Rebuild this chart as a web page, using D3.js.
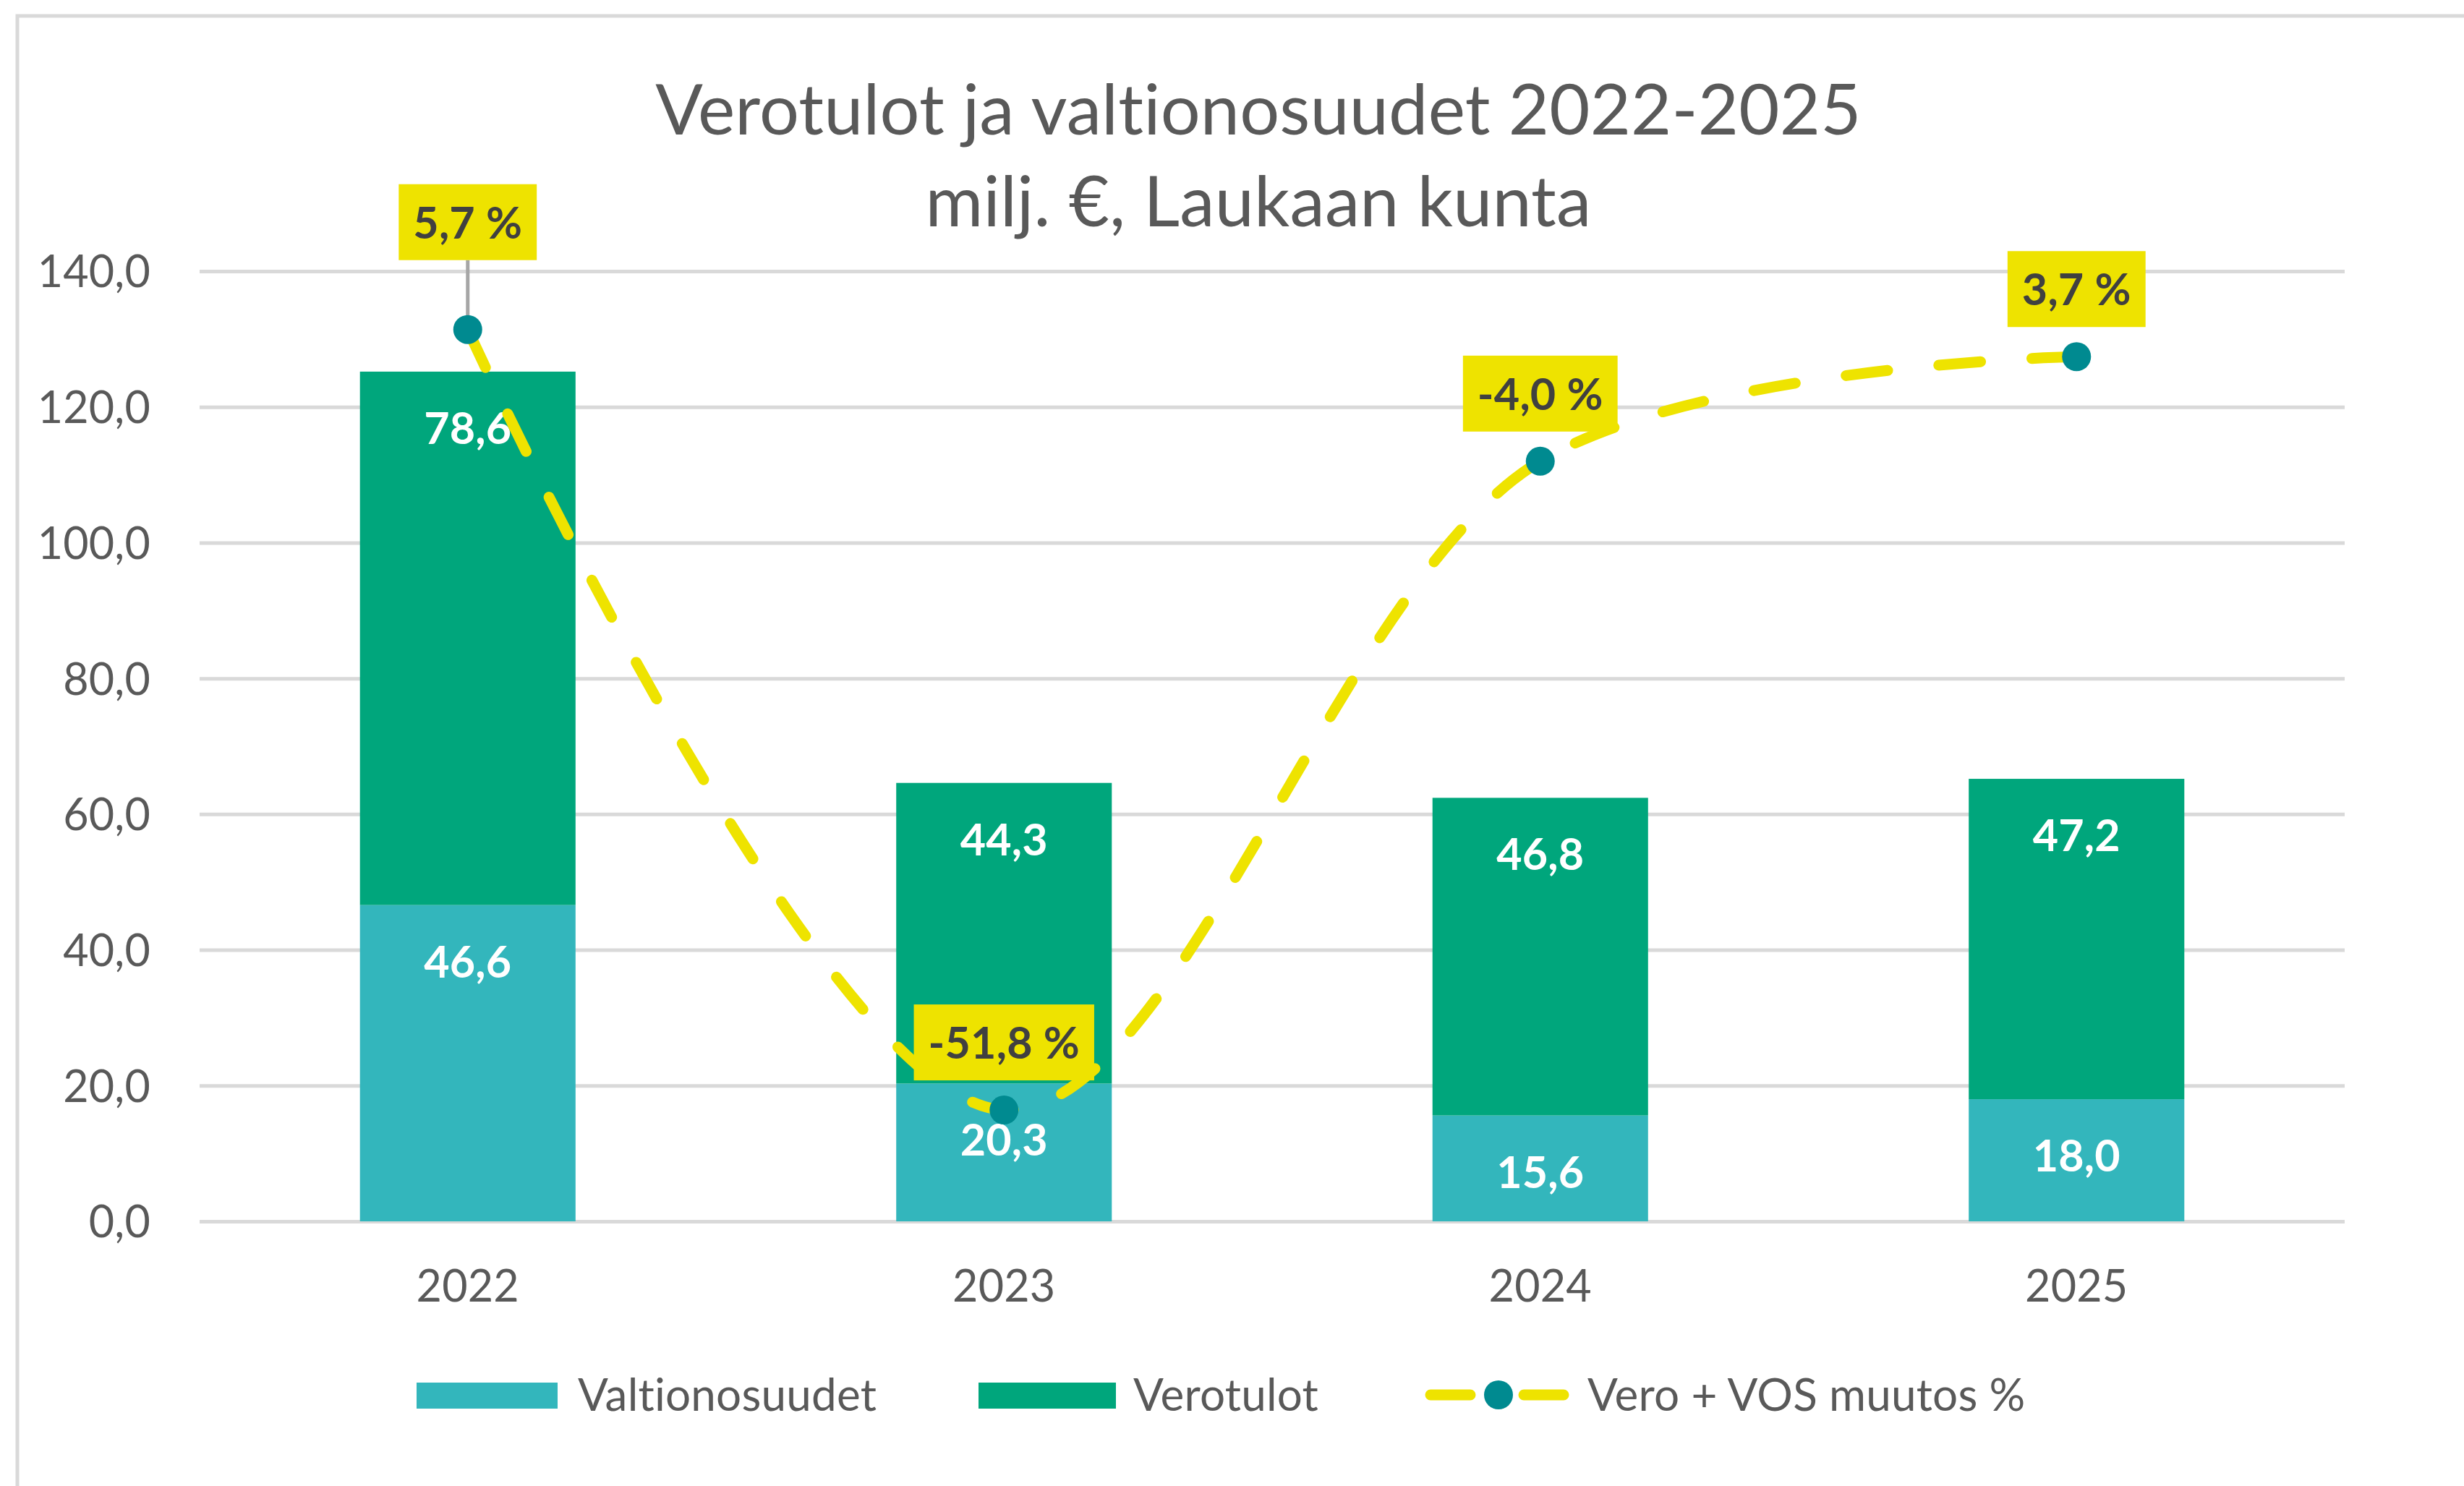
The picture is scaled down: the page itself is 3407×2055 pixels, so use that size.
<!DOCTYPE html>
<html><head><meta charset="utf-8">
<script src="https://cdn.jsdelivr.net/npm/d3@7"></script>
<style>
html,body{margin:0;padding:0;background:#fff;}
svg{display:block;font-family:Lato,"Open Sans",sans-serif;}
text{font-variant-ligatures:none;font-feature-settings:"liga" 0,"clig" 0,"dlig" 0;letter-spacing:0.2px;}
</style></head>
<body>
<svg id="chart" width="3407" height="2055"></svg>
<script>
const categories = ["2022", "2023", "2024", "2025"];
const valtionosuudet = [46.6, 20.3, 15.6, 18.0];
const verotulot = [78.6, 44.3, 46.8, 47.2];
const muutos = [5.7, -51.8, -4.0, 3.7];
const yTicks = [0, 20, 40, 60, 80, 100, 120, 140];
const titleLines = ["Verotulot ja valtionosuudet 2022-2025", "milj. €, Laukaan kunta"];
const seriesNames = ["Valtionosuudet", "Verotulot", "Vero + VOS muutos %"];

const C_TEAL = "#33B6BC", C_GREEN = "#00A67C", C_YELLOW = "#EEE300", C_MARK = "#008A90";
const C_GRID = "#D9D9D9", C_TEXT = "#595959", C_DARK = "#404040";

const fi = d3.formatLocale({decimal: ",", thousands: " ", grouping: [3], currency: ["", " €"], minus: "-"});
const f1 = fi.format(".1f");

const svg = d3.select("#chart");
svg.append("rect").attr("width", 3407).attr("height", 2055).attr("fill", "#fff");
// chart border (clipped on right/bottom)
svg.append("rect").attr("x", 24).attr("y", 22).attr("width", 3500).attr("height", 2200)
  .attr("fill", "none").attr("stroke", C_GRID).attr("stroke-width", 5);

const x = d3.scaleBand().domain(categories).range([276, 3242]).padding(0);
const y = d3.scaleLinear().domain([0, 140]).range([1689, 375]);
const y2 = d3.scaleLinear().domain([-60, 10]).range([1689, 375]);
const bw = x.bandwidth() * 0.402;

// title
const title = svg.append("text").attr("text-anchor", "middle").attr("fill", C_TEXT)
  .attr("font-size", 97);
title.append("tspan").attr("x", 1740).attr("y", 186).text(titleLines[0]);
title.append("tspan").attr("x", 1740).attr("y", 313).text(titleLines[1]);

// y axis with gridlines
const yAxis = svg.append("g").attr("transform", "translate(276,0)")
  .call(d3.axisLeft(y).tickValues(yTicks).tickFormat(f1)
    .tickSizeInner(-(3242 - 276)).tickSizeOuter(0).tickPadding(68));
yAxis.select(".domain").remove();
yAxis.selectAll(".tick line").attr("stroke", C_GRID).attr("stroke-width", 5);
yAxis.selectAll(".tick text").attr("fill", C_TEXT).attr("font-size", 61)
  .attr("font-family", "Lato").attr("dy", "0.36em");

// x axis
const xAxis = svg.append("g").attr("transform", "translate(0,1689)")
  .call(d3.axisBottom(x).tickSize(0).tickPadding(68));
xAxis.select(".domain").remove();
xAxis.selectAll(".tick text").attr("fill", C_TEXT).attr("font-size", 61).attr("font-family", "Lato");

// stacked bars
const stackData = categories.map((c, i) => ({cat: c, valtionosuudet: valtionosuudet[i], verotulot: verotulot[i]}));
const stack = d3.stack().keys(["valtionosuudet", "verotulot"])(stackData);
const colors = [C_TEAL, C_GREEN];
stack.forEach((layer, li) => {
  const g = svg.append("g");
  g.selectAll("rect").data(layer).join("rect")
    .attr("x", d => x(d.data.cat) + x.bandwidth() / 2 - bw / 2)
    .attr("width", bw)
    .attr("y", d => y(d[1]))
    .attr("height", d => y(d[0]) - y(d[1]))
    .attr("fill", colors[li]);
  g.selectAll("text").data(layer).join("text")
    .attr("x", d => x(d.data.cat) + x.bandwidth() / 2)
    .attr("y", d => y(d[1]) + 78)
    .attr("dy", "0.36em")
    .attr("text-anchor", "middle").attr("fill", "#fff").attr("font-weight", 700)
    .attr("font-size", 61)
    .text(d => f1(d[1] - d[0]));
});

// line series
const pts = categories.map((c, i) => [x(c) + x.bandwidth() / 2, y2(muutos[i])]);
svg.append("path").attr("d", d3.line().curve(d3.curveCatmullRom.alpha(0.5))(pts))
  .attr("fill", "none").attr("stroke", C_YELLOW).attr("stroke-width", 15)
  .attr("stroke-linecap", "round").attr("stroke-dasharray", "58 71");

// leader line for first label
const lift = [96, 41, 41, 41];
svg.append("line").attr("x1", pts[0][0]).attr("x2", pts[0][0])
  .attr("y1", pts[0][1] - lift[0]).attr("y2", pts[0][1])
  .attr("stroke", "#A6A6A6").attr("stroke-width", 5);

svg.append("g").selectAll("circle").data(pts).join("circle")
  .attr("cx", d => d[0]).attr("cy", d => d[1]).attr("r", 20).attr("fill", C_MARK);

// percentage labels
const lg = svg.append("g");
pts.forEach((p, i) => {
  const bottom = p[1] - lift[i];
  const cy = bottom - 52;
  const g = lg.append("g");
  const box = g.append("rect").attr("fill", C_YELLOW);
  const t = g.append("text").attr("x", p[0]).attr("y", cy).attr("dy", "0.36em")
    .attr("text-anchor", "middle").attr("fill", C_DARK).attr("font-weight", 700)
    .attr("font-size", 61).text(f1(muutos[i]) + " %");
  const w = t.node().getComputedTextLength() + 40;
  box.attr("x", p[0] - w / 2).attr("width", w).attr("y", bottom - 105).attr("height", 105);
});

// legend
const leg = svg.append("g");
leg.append("rect").attr("x", 576).attr("y", 1912).attr("width", 195).attr("height", 36).attr("fill", C_TEAL);
leg.append("text").attr("x", 799).attr("y", 1951).attr("font-size", 62).attr("fill", C_TEXT).text(seriesNames[0]);
leg.append("rect").attr("x", 1353).attr("y", 1912).attr("width", 190).attr("height", 36).attr("fill", C_GREEN);
leg.append("text").attr("x", 1567).attr("y", 1951).attr("font-size", 62).attr("fill", C_TEXT).text(seriesNames[1]);
leg.append("line").attr("x1", 1978).attr("x2", 2165).attr("y1", 1929).attr("y2", 1929)
  .attr("stroke", C_YELLOW).attr("stroke-width", 15).attr("stroke-linecap", "round")
  .attr("stroke-dasharray", "55 74");
leg.append("circle").attr("cx", 2072).attr("cy", 1929).attr("r", 20).attr("fill", C_MARK);
leg.append("text").attr("x", 2195).attr("y", 1951).attr("font-size", 62).attr("fill", C_TEXT).text(seriesNames[2]);
</script>
</body></html>
